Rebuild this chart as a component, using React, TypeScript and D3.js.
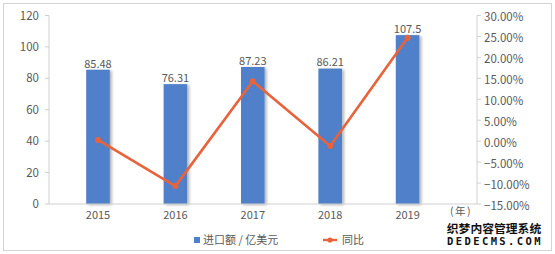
import React from "react";
import * as d3 from "d3";

const years = ["2015", "2016", "2017", "2018", "2019"];
const importValues = [85.48, 76.31, 87.23, 86.21, 107.5];
const yoyValues = [0.3, -10.73, 14.31, -1.17, 24.69];
const leftTicks = [0, 20, 40, 60, 80, 100, 120];
const rightTicks = [-15, -10, -5, 0, 5, 10, 15, 20, 25, 30];
const seriesNames = ["进口额 / 亿美元", "同比"];
const unitLabel = "(年)";

const W = 555;
const H = 254;
const FONT = "'Noto Sans CJK SC', 'Liberation Sans', sans-serif";
const BAR = "#4f80c9";
const LINE = "#e8633b";
const TXT = "#595959";
const AXIS = "#d0d0d0";

export default function App() {
  const left = 49;
  const right = 477;
  const top = 15.5;
  const bottom = 204;
  const x = d3.scaleBand<string>().domain(years).range([59.3, 446.3]).paddingInner(0.695).paddingOuter(0.3475);
  const y = d3.scaleLinear().domain([0, 120]).range([bottom, top]);
  const y2 = d3.scaleLinear().domain([-15, 30]).range([bottom, top]);
  const cx = (d: string) => (x(d) as number) + x.bandwidth() / 2;
  const line = d3
    .line<number>()
    .x((_, i) => cx(years[i]))
    .y((v) => y2(v));

  return (
    <svg
      width={W}
      height={H}
      style={{ position: "absolute", left: 0, top: 0, background: "#fff" }}
      fontFamily={FONT}
    >
      <defs>
        <filter id="sh" x="-30%" y="-10%" width="180%" height="130%">
          <feDropShadow dx="2" dy="1" stdDeviation="1.6" floodColor="#000" floodOpacity="0.3" />
        </filter>
      </defs>
      <rect x={3.5} y={3.5} width={548} height={247} fill="#fff" stroke="#d4d4d4" strokeWidth={1} />

      {/* left axis */}
      <line x1={left} x2={left} y1={top} y2={bottom} stroke={AXIS} />
      {leftTicks.map((t) => (
        <g key={"l" + t}>
          <line x1={left - 4} x2={left} y1={y(t)} y2={y(t)} stroke={AXIS} />
          <text x={39} y={y(t)} dy="0.35em" textAnchor="end" fontSize={11.5} fill={TXT}>
            {t}
          </text>
        </g>
      ))}

      {/* right axis */}
      <line x1={right} x2={right} y1={top} y2={bottom} stroke={AXIS} />
      {rightTicks.map((t) => (
        <g key={"r" + t}>
          <line x1={right} x2={right + 4} y1={y2(t)} y2={y2(t)} stroke={AXIS} />
          <text x={484} y={y2(t) + 1.5} dy="0.35em" textAnchor="start" fontSize={11.5} fill={TXT}>
            {(t < 0 ? "−" : "") + Math.abs(t).toFixed(2) + "%"}
          </text>
        </g>
      ))}

      {/* bars */}
      {years.map((yr, i) => (
        <rect
          key={"b" + yr}
          x={x(yr)}
          y={y(importValues[i])}
          width={x.bandwidth()}
          height={bottom - y(importValues[i])}
          fill={BAR}
          filter="url(#sh)"
        />
      ))}

      {/* bottom axis */}
      <line x1={left} x2={right} y1={bottom} y2={bottom} stroke={AXIS} />
      {years.map((yr) => (
        <text key={"x" + yr} x={cx(yr)} y={215} dy="0.35em" textAnchor="middle" fontSize={11} fill={TXT}>
          {yr}
        </text>
      ))}
      <text x={461} y={211} dy="0.35em" textAnchor="middle" fontSize={10.5} letterSpacing={1.5} fill={TXT}>
        {unitLabel}
      </text>

      {/* bar labels */}
      {years.map((yr, i) => (
        <text
          key={"v" + yr}
          x={cx(yr)}
          y={y(importValues[i]) - 6}
          dy="0.35em"
          textAnchor="middle"
          fontSize={11}
          fill={TXT}
        >
          {importValues[i]}
        </text>
      ))}

      {/* line */}
      <path d={line(yoyValues) || ""} fill="none" stroke={LINE} strokeWidth={2.6} strokeLinejoin="round" />
      {yoyValues.map((v, i) => (
        <circle key={"p" + i} cx={cx(years[i])} cy={y2(v)} r={3} fill={LINE} />
      ))}

      {/* legend */}
      <rect x={194} y={237} width={6} height={6} fill={BAR} />
      <text x={203} y={240} dy="0.35em" fontSize={11} fill={TXT}>
        {seriesNames[0]}
      </text>
      <line x1={323} x2={337} y1={240} y2={240} stroke={LINE} strokeWidth={2.4} />
      <circle cx={330} cy={240} r={2.6} fill={LINE} />
      <text x={342} y={240} dy="0.35em" fontSize={11} fill={TXT}>
        {seriesNames[1]}
      </text>

      {/* watermark */}
      <text
        x={494}
        y={228.5}
        dy="0.35em"
        textAnchor="middle"
        fontSize={11.8}
        fontWeight="bold"
        fill="#111"
        stroke="#fff"
        strokeWidth={2}
        paintOrder="stroke"
      >
        织梦内容管理系统
      </text>
      <text
        x={495}
        y={241.5}
        dy="0.35em"
        textAnchor="middle"
        fontSize={10.5}
        fontWeight="bold"
        fill="#111"
        letterSpacing={2.4}
        fontFamily="'DejaVu Sans Mono', monospace"
        stroke="#fff"
        strokeWidth={2}
        paintOrder="stroke"
      >
        DEDECMS.COM
      </text>
    </svg>
  );
}
